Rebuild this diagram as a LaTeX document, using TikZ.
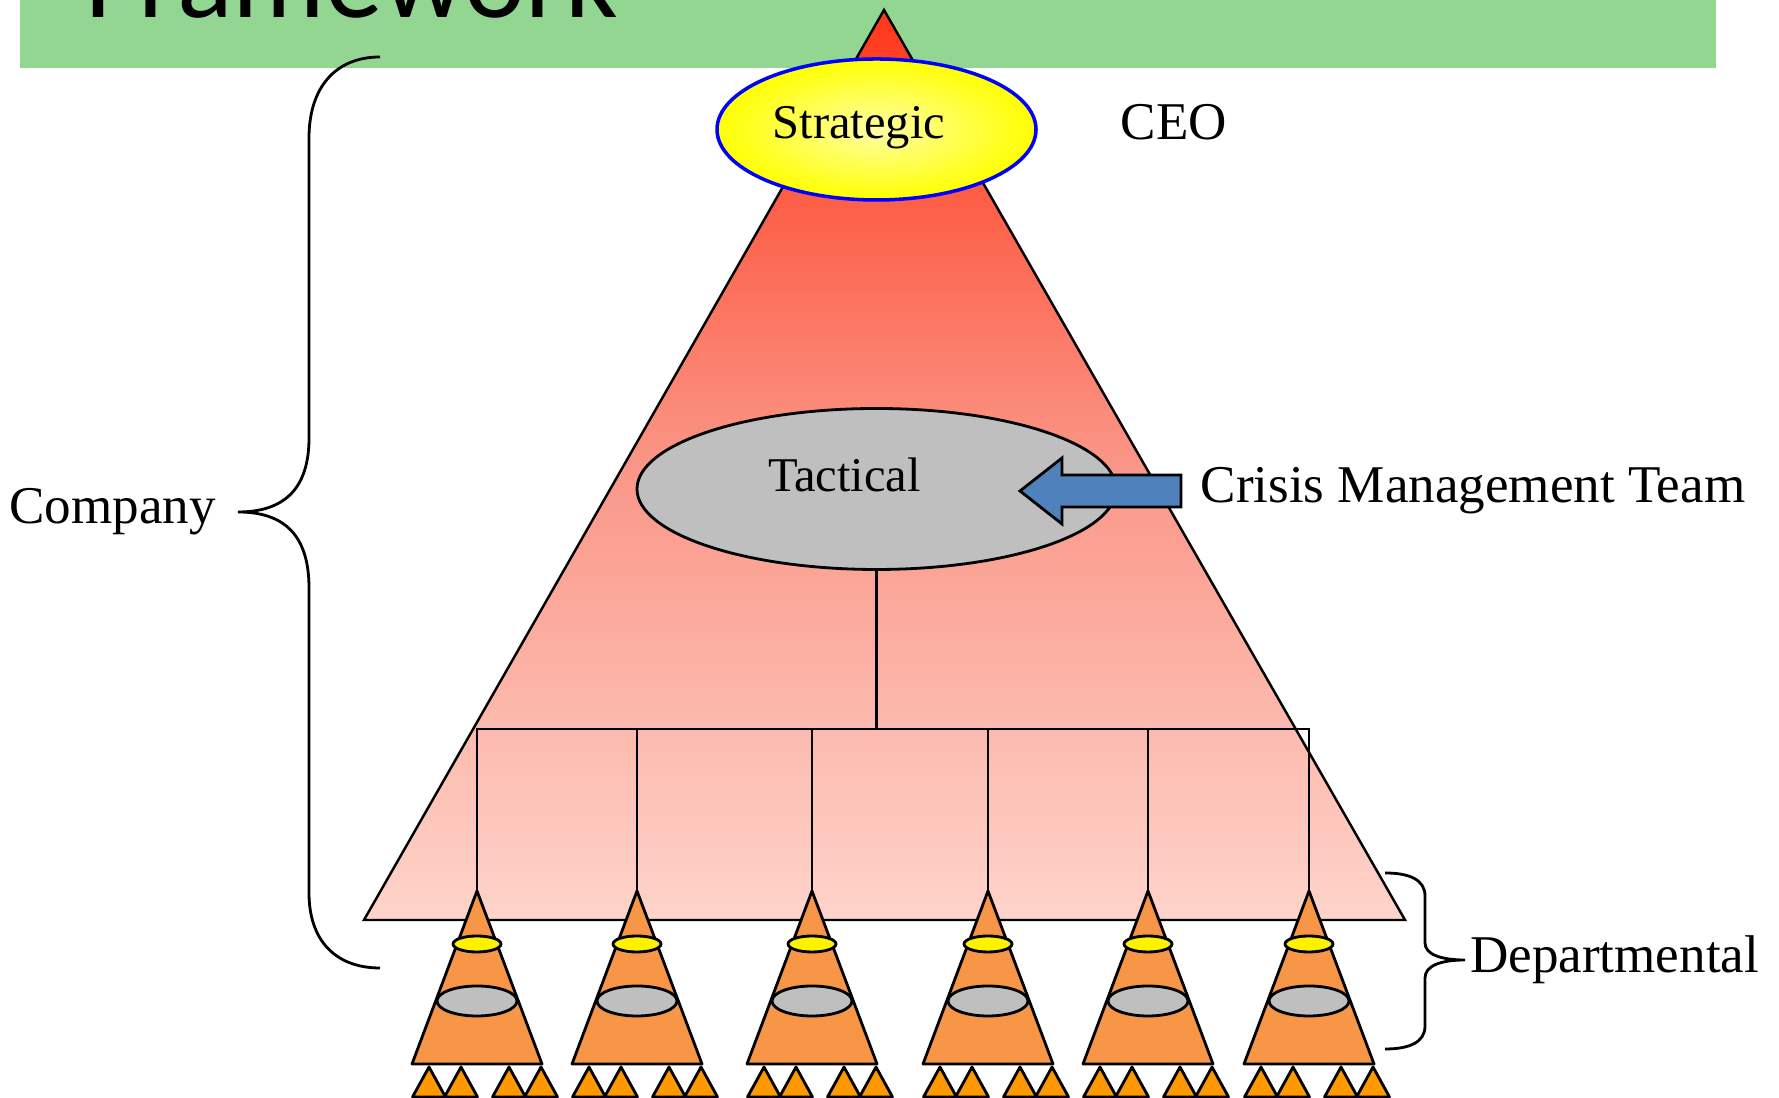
\documentclass[tikz,border=0pt]{standalone}
\usepackage{fontspec}
\setmainfont{Liberation Serif}
\newfontfamily\titlefont{Carlito}
\usetikzlibrary{positioning,shapes.geometric}

\definecolor{bannergreen}{RGB}{146,214,146}
\definecolor{pyrtop}{RGB}{255,55,25}
\definecolor{pyrmid}{RGB}{250,150,135}
\definecolor{pyrbot}{RGB}{254,212,202}
\definecolor{deptorange}{RGB}{247,150,70}
\definecolor{unitorange}{RGB}{255,153,0}
\definecolor{tacgrey}{RGB}{191,191,191}
\definecolor{arrowblue}{RGB}{79,129,189}

\begin{document}
\begin{tikzpicture}[
  wire/.style={line width=0.7pt},
  lbl/.style={font=\fontsize{15.1}{18}\selectfont, inner sep=1pt},
  lvltext/.style={font=\fontsize{13.8}{16}\selectfont, inner sep=1pt},
  lvl/.style={ellipse, draw, inner sep=0pt, line width=0.8pt},
  dept/.style={draw, fill=deptorange, line width=0.8pt, line join=round},
  unit/.style={draw, fill=unitorange, line width=0.8pt, line join=round},
  brace/.style={line width=0.8pt}
]
\useasboundingbox (0,0) rectangle (17.79,10.98);
\clip (0,0) rectangle (17.79,10.98);

% title bar
\fill[bannergreen] (0.20,10.30) rectangle (17.16,11.2);
\node[anchor=base west, inner sep=0pt, font=\titlefont\fontsize{33}{36}\selectfont] (title) at (0.85,10.80) {Framework};

% company pyramid
\path[draw, line width=0.7pt, top color=pyrtop, bottom color=pyrbot, middle color=pyrmid]
  (8.84,10.88) -- (14.05,1.78) -- (3.64,1.78) -- cycle;

\node[lvl, fill=tacgrey, minimum width=4.79cm, minimum height=1.61cm,
  label={[lvltext, xshift=-0.32cm, yshift=0.14cm]center:Tactical}] (tac) at (8.765,6.09) {};

% departments
\foreach \x [count=\i] in {4.77,6.37,8.12,9.88,11.48,13.09}
{
  \coordinate (d\i) at (\x,2.07);
  \draw[dept] (d\i) -- ++(-0.65,-1.73) -- ++(1.30,0) -- cycle;
  \draw[fill=yellow, line width=0.8pt] (\x,1.54) ellipse (0.24 and 0.08);
  \draw[fill=tacgrey, line width=0.8pt] (\x,0.97) ellipse (0.40 and 0.15);
  \foreach \t in {-0.48,-0.16,0.32,0.64}
    \draw[unit] ({\x+\t},0.31) -- ++(-0.165,-0.30) -- ++(0.33,0) -- cycle;
}

\coordinate (bar) at (8.765,3.69);
\draw[wire] (tac.south) -- (bar);
\draw[wire] (d1) |- (bar) -| (d6);
\foreach \i in {2,...,5}
  \draw[wire] (d\i) -- (d\i |- bar);

\node[lvl, draw=blue, line width=1pt, inner color={rgb,255:red,255;green,255;blue,165}, outer color=yellow,
  minimum width=3.19cm, minimum height=1.41cm,
  label={[lvltext, xshift=-0.175cm, yshift=0.02cm]center:Strategic}] (strat) at (8.765,9.685) {};

\node[lbl] (ceo) at (11.74,9.755) {CEO};

% crisis team
\node[lbl, anchor=west, inner sep=0.19cm] (cmt) at (11.81,6.07) {Crisis Management Team};
\draw[fill=arrowblue, line width=0.8pt, line join=miter] ([yshift=1.6mm]cmt.west) -- ++(-1.19,0) -- ++(0,1.7mm)
  -- ++(-0.42,-3.3mm) -- ++(0.42,-3.3mm) -- ++(0,1.7mm) -- ++(1.19,0) -- cycle;

% braces
\coordinate (comptip) at (2.38,5.86);
\draw[brace] (3.80,10.41) .. controls (3.35,10.41) and (3.09,10.10) .. (3.09,9.60) -- (3.09,6.60)
  .. controls (3.09,6.10) and (2.85,5.86) .. (comptip)
  .. controls (2.85,5.86) and (3.09,5.62) .. (3.09,5.10) -- (3.09,2.05)
  .. controls (3.09,1.58) and (3.35,1.30) .. (3.80,1.30);
\node[lbl, left=0.18cm of comptip] (company) {Company};

\coordinate (depttip) at (14.65,1.38);
\draw[brace] (13.85,2.25) .. controls (14.10,2.25) and (14.25,2.18) .. (14.25,2.02) -- (14.25,1.55)
  .. controls (14.25,1.44) and (14.40,1.38) .. (depttip)
  .. controls (14.40,1.38) and (14.25,1.32) .. (14.25,1.20) -- (14.25,0.72)
  .. controls (14.25,0.56) and (14.10,0.49) .. (13.85,0.49);
\node[lbl, right=0.01cm of depttip] (deptl) {Departmental};

\end{tikzpicture}
\end{document}
